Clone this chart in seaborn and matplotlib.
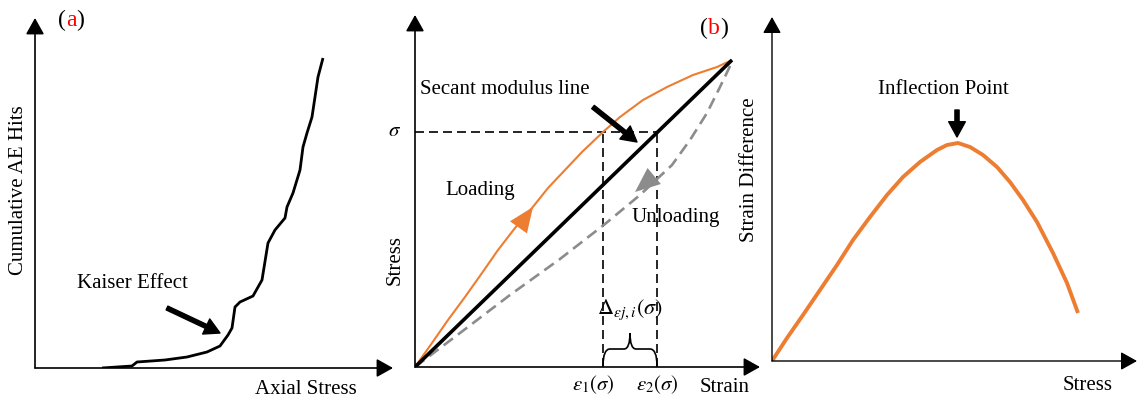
import numpy as np
import pandas as pd
import matplotlib
matplotlib.use('Agg')
import matplotlib.pyplot as plt
import seaborn as sns
from matplotlib.path import Path
from matplotlib.patches import PathPatch

# (a) cumulative AE hits against axial stress (arbitrary units)
axial_stress = [67, 97, 102, 130, 152, 172, 185, 193, 197, 200, 205, 218, 227,
                233, 240, 250, 252, 258, 265, 268, 272, 277, 280, 283, 288]
ae_hits = [0, 2, 6, 8, 11, 16, 22, 33, 40, 61, 66, 72, 88,
           125, 138, 150, 161, 175, 198, 221, 235, 251, 271, 291, 310]

# (b) loading / unloading cycle
load_strain = [0, 17, 33, 50, 67, 83, 100, 117, 133, 150, 167, 188, 205, 228, 252, 278, 302, 317]
load_stress = [0, 24, 47, 70, 94, 117, 139, 159, 179, 197, 215, 235, 250, 267, 280, 292, 300, 307]
unload_strain = [0, 45, 95, 145, 190, 225, 257, 275, 292, 305, 317]
unload_stress = [0, 34, 72, 108, 143, 172, 202, 227, 254, 280, 305]
secant_strain = [0, 317]
secant_stress = [0, 307]
sigma = 235
eps1 = 188
eps2 = 242

# (c) strain difference against stress
c_stress = [0, 15, 31, 48, 65, 81, 98, 115, 131, 148, 165, 175, 186,
            198, 211, 225, 238, 251, 265, 281, 295, 306]
c_strain_diff = [0, 23, 46, 71, 96, 121, 144, 166, 184, 199, 211, 216, 218,
                 214, 206, 194, 179, 161, 139, 108, 78, 48]

orange = '#ED7D31'
grey = '#8C8C8C'

sns.set_style('white')
plt.rcParams['font.family'] = ['Liberation Serif', 'DejaVu Serif']
plt.rcParams['mathtext.fontset'] = 'stix'
plt.rcParams['text.color'] = 'black'
plt.rcParams['lines.solid_joinstyle'] = 'round'
plt.rcParams['lines.solid_capstyle'] = 'butt'
fs = 15

W, H = 1137, 403
fig = plt.figure(figsize=(W / 100, H / 100), dpi=100)


def box(x0, x1, ytop, ybot):
    return [x0 / W, 1 - ybot / H, (x1 - x0) / W, (ybot - ytop) / H]


def axis_arrows(ax, lw):
    kw = dict(arrowstyle='-|>,head_length=0.5,head_width=0.28', mutation_scale=20,
              lw=lw, color='black', shrinkA=0, shrinkB=0)
    ax.annotate('', xy=(1, 0), xytext=(0, 0), xycoords='axes fraction',
                arrowprops=kw, annotation_clip=False)
    ax.annotate('', xy=(0, 1), xytext=(0, 0), xycoords='axes fraction',
                arrowprops=kw, annotation_clip=False)


def panel_tag(ax, x, y, letter):
    t1 = ax.text(x, y, '(', fontsize=17, ha='left', va='center', color='black')
    t2 = ax.annotate(letter, xy=(1, 0), xycoords=t1, ha='left', va='bottom',
                     fontsize=17, color='red')
    ax.annotate(')', xy=(1, 0), xycoords=t2, ha='left', va='bottom', fontsize=17,
                color='black')


big_arrow = dict(width=3, headwidth=12, headlength=11, color='black', shrink=0)

# ---------------- (a)
ax_a = fig.add_axes(box(35, 393, 18, 368))
ax_a.set_xlim(0, 358)
ax_a.set_ylim(0, 350)
ax_a.set_axis_off()
axis_arrows(ax_a, 1.2)
sns.lineplot(x=axial_stress, y=ae_hits, ax=ax_a, color='black', lw=2,
             sort=False, estimator=None)
ax_a.annotate('', xy=(185, 35), xytext=(132, 60), arrowprops=big_arrow)
ax_a.text(42, 85, 'Kaiser Effect', fontsize=fs, ha='left', va='center')
ax_a.text(-16, 178, 'Cumulative AE Hits', fontsize=fs, rotation=90,
          ha='center', va='center')
ax_a.text(271, -22, 'Axial Stress', fontsize=fs, ha='center', va='center')
panel_tag(ax_a, 23, 348, 'a')

# ---------------- (b)
ax_b = fig.add_axes(box(415, 760, 15, 367))
ax_b.set_xlim(0, 345)
ax_b.set_ylim(0, 352)
ax_b.set_axis_off()
axis_arrows(ax_b, 1.2)
dash = (0, (5.4, 3))
ax_b.plot([0, eps2], [sigma, sigma], color='black', lw=1.2, linestyle=dash)
ax_b.plot([eps1, eps1], [0, sigma], color='black', lw=1.2, linestyle=dash)
ax_b.plot([eps2, eps2], [0, sigma], color='black', lw=1.2, linestyle=dash)
sns.lineplot(x=unload_strain, y=unload_stress, ax=ax_b, color=grey, lw=1.9,
             linestyle=(0, (4.4, 2.4)), sort=False, estimator=None)
sns.lineplot(x=load_strain, y=load_stress, ax=ax_b, color=orange, lw=1.5,
             sort=False, estimator=None)
sns.lineplot(x=secant_strain, y=secant_stress, ax=ax_b, color='black', lw=2.6,
             sort=False, estimator=None)
# direction heads on the curves
head = 'simple,head_length=0.9,head_width=0.75,tail_width=0.01'
ax_b.annotate('', xy=(118, 160), xytext=(108, 146),
              arrowprops=dict(arrowstyle=head, mutation_scale=20, color=orange, lw=0,
                              shrinkA=0, shrinkB=0))
ax_b.annotate('', xy=(220, 175), xytext=(232, 185),
              arrowprops=dict(arrowstyle=head, mutation_scale=20, color=grey, lw=0,
                              shrinkA=0, shrinkB=0))
ax_b.annotate('', xy=(222, 225), xytext=(178, 260), arrowprops=big_arrow)

# brace between eps1 and eps2
mid = (eps1 + eps2) / 2
verts = [(eps1, 1), (eps1, 18), (eps1 + 7, 18), (mid - 6, 18), (mid, 18), (mid, 34),
         (mid, 18), (mid + 6, 18), (eps2 - 7, 18), (eps2, 18), (eps2, 1)]
codes = [Path.MOVETO, Path.CURVE3, Path.CURVE3, Path.LINETO, Path.CURVE3, Path.CURVE3,
         Path.CURVE3, Path.CURVE3, Path.LINETO, Path.CURVE3, Path.CURVE3]
ax_b.add_patch(PathPatch(Path(verts, codes), facecolor='none', edgecolor='black', lw=1.2))

ax_b.text(mid, 57, r'$\Delta_{\varepsilon j,i}(\sigma)$', fontsize=16, ha='center', va='center')
ax_b.text(eps1 - 10, -18, r'$\varepsilon_1(\sigma)$', fontsize=fs, ha='center', va='center')
ax_b.text(eps2, -18, r'$\varepsilon_2(\sigma)$', fontsize=fs, ha='center', va='center')
ax_b.text(310, -21, 'Strain', fontsize=fs, ha='center', va='center')
ax_b.text(-20, sigma, r'$\sigma$', fontsize=fs, ha='center', va='center')
ax_b.text(-20, 107, 'Stress', fontsize=fs, rotation=90, ha='center', va='center')
ax_b.text(5, 277, 'Secant modulus line', fontsize=fs, ha='left', va='center')
ax_b.text(30, 177, 'Loading', fontsize=fs, ha='left', va='center')
ax_b.text(217, 150, 'Unloading', fontsize=fs, ha='left', va='center')
panel_tag(ax_b, 285, 339, 'b')

# ---------------- (c)
ax_c = fig.add_axes(box(772, 1137, 17, 361))
ax_c.set_xlim(0, 365)
ax_c.set_ylim(0, 344)
ax_c.set_axis_off()
axis_arrows(ax_c, 1.0)
sns.lineplot(x=c_stress, y=c_strain_diff, ax=ax_c, color=orange, lw=2.8,
             sort=False, estimator=None)
ax_c.annotate('', xy=(185, 224), xytext=(185, 251), arrowprops=big_arrow)
ax_c.text(171, 271, 'Inflection Point', fontsize=fs, ha='center', va='center')
ax_c.text(316, -24, 'Stress', fontsize=fs, ha='center', va='center')
ax_c.text(-22, 191, 'Strain Difference', fontsize=fs, rotation=90,
          ha='center', va='center')

fig.savefig('out.png', dpi=100)
